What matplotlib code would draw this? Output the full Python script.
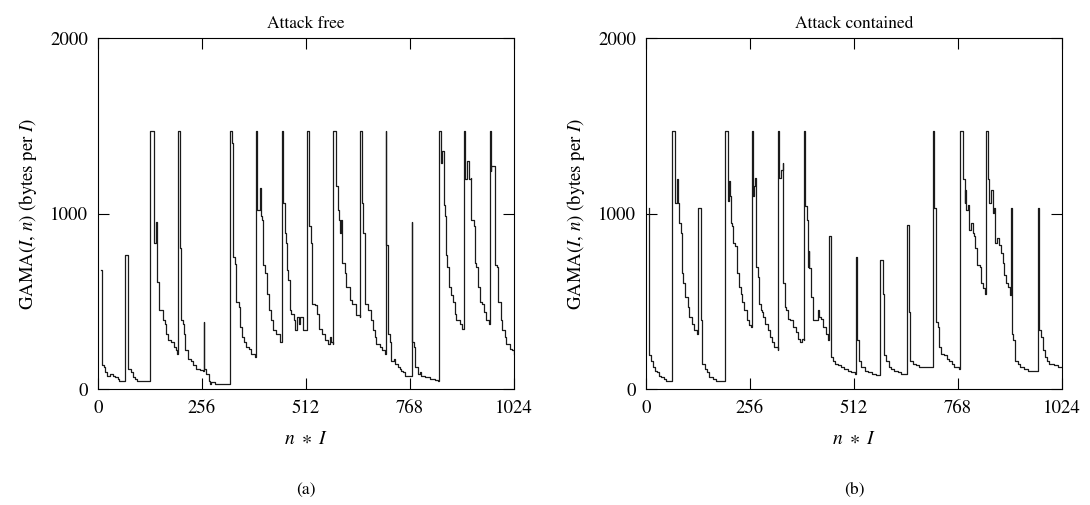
import matplotlib
matplotlib.use("Agg")
import matplotlib.pyplot as plt

# Data (n*I vs GAMA(I, n) in bytes per I)

free_x = [
    8, 9, 15, 16, 21, 26, 29, 37, 41, 50, 51, 65,
    66, 74, 74, 82, 86, 90, 95, 128,
    129, 138, 138, 139, 142, 144, 144, 150, 151, 160, 160, 164, 168, 172, 180, 187, 191, 195,
    196, 203, 205, 205, 209, 212, 215, 222, 230, 234, 242, 250, 259,
    260, 261, 267, 272, 275, 279, 287, 324,
    325, 331, 332, 336, 340, 346, 349, 354, 359, 365, 371, 377, 386, 389,
    390, 392, 398, 400, 404, 406, 412, 416, 421, 427, 431, 439, 447, 453,
    454, 456, 461, 462, 464, 468, 472, 476, 482, 484, 491, 494, 498, 505, 513,
    515, 519, 525, 527, 533, 540, 544, 551, 558, 565, 570, 574, 578,
    579, 585, 585, 591, 593, 595, 598, 600, 607, 611, 620, 625, 636, 644,
    645, 651, 651, 652, 656, 658, 665, 673, 677, 681, 685, 693, 699, 706, 707,
    708, 709, 714, 714, 718, 722, 729, 732, 739, 743, 747, 751, 755, 771,
    772, 774, 778, 781, 788, 792, 796, 804, 817, 829, 838,
    839, 844, 845, 846, 851, 852, 855, 857, 860, 863, 868, 874, 878, 882, 890, 896, 900,
    901, 904, 909, 913, 917, 919, 919, 925, 927, 931, 935, 940, 945, 949, 956, 963,
    964, 967, 968, 975, 976, 981, 985, 991, 995, 1001, 1005, 1013, 1018, 1024,
]
free_y = [
    678, 134, 124, 95, 76, 76, 86, 76, 66, 57, 48, 48,
    764, 380, 115, 95, 66, 57, 48, 48,
    1470, 1470, 1050, 830, 950, 900, 611, 602, 449, 449, 391, 372, 315, 277, 267, 238, 220, 200,
    1470, 802, 735, 391, 372, 315, 220, 172, 162, 134, 115, 109, 105,
    382, 115, 86, 48, 29, 38, 29, 29,
    1470, 1404, 754, 710, 496, 468, 353, 296, 267, 238, 229, 200, 181, 181,
    1470, 1022, 1146, 983, 964, 707, 659, 544, 449, 391, 334, 315, 267, 267,
    1470, 1060, 888, 831, 678, 621, 449, 430, 391, 334, 410, 372, 410, 334, 334,
    1470, 926, 831, 487, 477, 430, 344, 315, 277, 258, 296, 267, 258,
    1470, 1470, 1155, 1022, 964, 888, 964, 716, 659, 582, 506, 487, 420, 410,
    1470, 1470, 1060, 888, 773, 487, 449, 391, 334, 296, 258, 238, 220, 200, 200,
    1470, 821, 697, 315, 267, 162, 172, 143, 124, 115, 105, 95, 76, 76,
    951, 267, 238, 124, 86, 95, 76, 66, 57, 52, 48,
    1470, 1470, 1289, 1356, 1356, 1050, 983, 764, 697, 582, 535, 496, 430, 391, 372, 344, 344,
    1470, 1194, 1298, 1194, 1203, 1155, 964, 926, 716, 697, 582, 496, 487, 439, 391, 372,
    1470, 1241, 1270, 1270, 707, 697, 496, 391, 334, 296, 258, 229, 220, 200,
]

contained_x = [
    7, 7, 12, 16, 21, 26, 33, 37, 45, 49, 63,
    64, 71, 72, 76, 78, 80, 86, 89, 92, 97, 103, 107, 113, 119, 125, 128,
    129, 135, 138, 144, 149, 156, 164, 172, 194,
    195, 201, 202, 204, 207, 209, 210, 212, 215, 218, 223, 230, 234, 236, 242, 249, 253, 259,
    260, 263, 265, 268, 271, 275, 279, 283, 286, 289, 294, 300, 304, 310, 316, 325,
    326, 328, 332, 337, 337, 341, 345, 349, 355, 361, 368, 373, 378, 383, 389,
    390, 392, 396, 398, 400, 402, 405, 410, 412, 419, 424, 427, 431, 435, 442, 447, 450,
    451, 456, 460, 464, 472, 480, 488, 497, 505, 515,
    516, 519, 524, 529, 538, 546, 556, 565, 576,
    577, 583, 585, 591, 597, 603, 611, 620, 628, 641,
    642, 648, 651, 657, 665, 673, 681, 705,
    706, 708, 714, 714, 718, 722, 726, 734, 740, 747, 753, 759, 771,
    772, 777, 780, 781, 784, 786, 788, 792, 794, 796, 800, 804, 808, 811, 814, 821, 825, 829, 835,
    836, 841, 843, 845, 849, 853, 856, 858, 863, 870, 874, 878, 882, 886, 890, 896, 898,
    899, 901, 904, 909, 915, 921, 931, 940, 963,
    964, 968, 972, 977, 981, 986, 993, 1005, 1013, 1024,
]
contained_y = [
    1031, 191, 162, 124, 105, 95, 76, 66, 57, 48, 48,
    1470, 1470, 1060, 1194, 1060, 945, 888, 659, 602, 525, 468, 410, 372, 334, 315, 315,
    1031, 391, 143, 115, 95, 66, 57, 48, 48,
    1470, 1470, 1069, 1184, 1098, 1069, 945, 926, 831, 812, 659, 582, 544, 496, 449, 391, 363, 353,
    1470, 1098, 1155, 1203, 697, 640, 487, 449, 439, 410, 372, 334, 296, 267, 238, 220,
    1470, 1203, 1250, 1289, 602, 468, 449, 401, 391, 353, 325, 286, 267, 286, 277,
    1470, 1041, 964, 697, 788, 688, 525, 516, 391, 391, 449, 410, 401, 353, 315, 277, 277,
    869, 181, 162, 143, 134, 124, 115, 105, 95, 86,
    754, 277, 162, 124, 105, 95, 86, 80, 80,
    735, 544, 191, 162, 124, 115, 105, 95, 86, 86,
    936, 439, 162, 143, 134, 128, 124, 124,
    1470, 1031, 869, 382, 353, 238, 200, 191, 172, 162, 143, 128, 115,
    1470, 1470, 1270, 1194, 1060, 1136, 1022, 1050, 945, 907, 945, 888, 869, 802, 707, 697, 602, 573, 544,
    1470, 1289, 1194, 1060, 1136, 1003, 1031, 831, 860, 821, 773, 716, 650, 602, 582, 535, 535,
    1031, 315, 277, 162, 143, 124, 115, 105, 105,
    1031, 334, 296, 220, 181, 162, 143, 134, 128, 124,
]

x_ticks = [0, 256, 512, 768, 1024]
y_ticks = [0, 1000, 2000]
titles = ["Attack free", "Attack contained"]
panel_tags = ["(a)", "(b)"]

# Style

plt.rcParams["font.family"] = ["STIXGeneral", "DejaVu Serif"]
plt.rcParams["mathtext.fontset"] = "stix"

W, H = 1090, 505
fig = plt.figure(figsize=(W / 100, H / 100), dpi=100)

panels = [
    (98, free_x, free_y),
    (646, contained_x, contained_y),
]

for i, (left_px, xs, ys) in enumerate(panels):
    ax = fig.add_axes([left_px / W, 1 - 389 / H, 416 / W, 351 / H])
    ax.plot(xs, ys, color="#1a1a1a", linewidth=0.9, drawstyle="steps-post")

    ax.set_xlim(0, 1024)
    ax.set_ylim(0, 2000)
    ax.set_xticks(x_ticks)
    ax.set_yticks(y_ticks)
    ax.tick_params(direction="in", top=True, right=True,
                   length=8, width=0.8, labelsize=13.5)
    ax.tick_params(axis="x", pad=8)
    ax.tick_params(axis="y", pad=7)
    for s in ax.spines.values():
        s.set_linewidth(0.8)

    ax.set_title(titles[i], fontsize=12.5, pad=7)
    ax.set_xlabel(r"$n\ \ast\ I$", fontsize=14, labelpad=10)
    ax.set_ylabel(r"GAMA($I$, $n$) (bytes per $I$)", fontsize=13.5, labelpad=8)

    fig.text((left_px + 208) / W, 1 - 490 / H, panel_tags[i],
             ha="center", va="center", fontsize=12.5)

fig.savefig("out.png", dpi=100)
